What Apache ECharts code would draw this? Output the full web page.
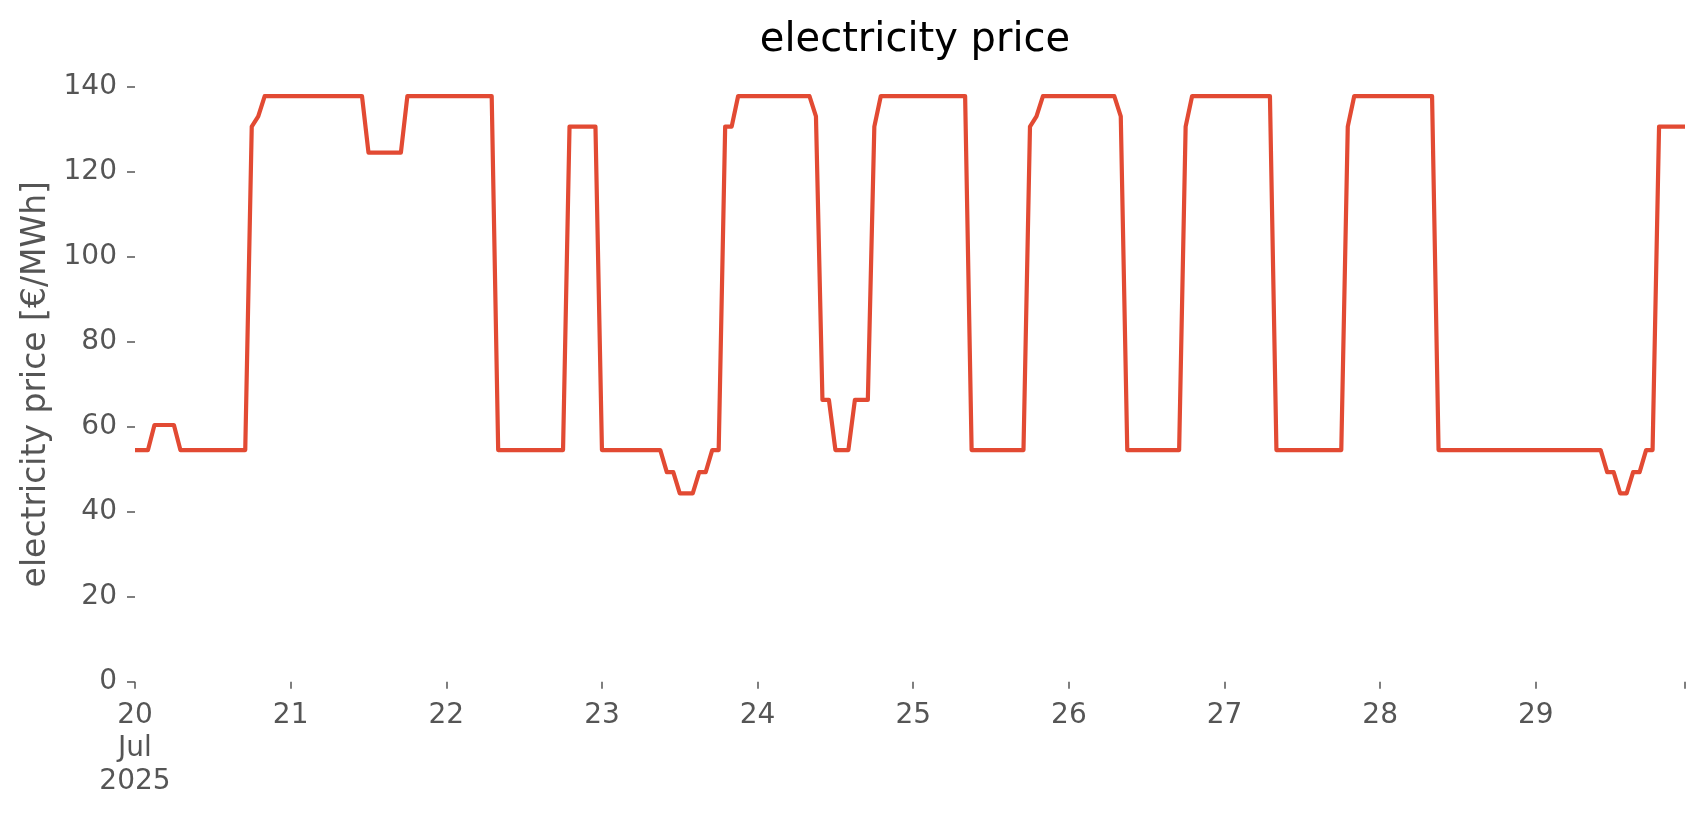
<!DOCTYPE html>
<html>
<head>
<meta charset="utf-8">
<script src="https://cdn.jsdelivr.net/npm/echarts@6/dist/echarts.min.js"></script>
<style>
html,body{margin:0;padding:0;background:#fff;}
#chart{width:1706px;height:815px;}
</style>
</head>
<body>
<div id="chart"></div>
<script>
// Hourly electricity price, 20 Jul 2025 00:00 .. 29 Jul 2025 23:00 (EUR/MWh)
const day20 = [54.5,54.5,54.5,60.4,60.4,60.4,60.4,54.5,54.5,54.5,54.5,54.5,54.5,54.5,54.5,54.5,54.5,54.5,130.6,133.0,137.8,137.8,137.8,137.8];
const day21 = [137.8,137.8,137.8,137.8,137.8,137.8,137.8,137.8,137.8,137.8,137.8,137.8,124.5,124.5,124.5,124.5,124.5,124.5,137.8,137.8,137.8,137.8,137.8,137.8];
const day22 = [137.8,137.8,137.8,137.8,137.8,137.8,137.8,137.8,54.5,54.5,54.5,54.5,54.5,54.5,54.5,54.5,54.5,54.5,54.5,130.6,130.6,130.6,130.6,130.6];
const day23 = [54.5,54.5,54.5,54.5,54.5,54.5,54.5,54.5,54.5,54.5,49.3,49.3,44.3,44.3,44.3,49.3,49.3,54.5,54.5,130.6,130.6,137.8,137.8,137.8];
const day24 = [137.8,137.8,137.8,137.8,137.8,137.8,137.8,137.8,137.8,133.0,66.3,66.3,54.5,54.5,54.5,66.3,66.3,66.3,130.6,137.8,137.8,137.8,137.8,137.8];
const day25 = [137.8,137.8,137.8,137.8,137.8,137.8,137.8,137.8,137.8,54.5,54.5,54.5,54.5,54.5,54.5,54.5,54.5,54.5,130.6,133.0,137.8,137.8,137.8,137.8];
const day26 = [137.8,137.8,137.8,137.8,137.8,137.8,137.8,137.8,133.0,54.5,54.5,54.5,54.5,54.5,54.5,54.5,54.5,54.5,130.6,137.8,137.8,137.8,137.8,137.8];
const day27 = [137.8,137.8,137.8,137.8,137.8,137.8,137.8,137.8,54.5,54.5,54.5,54.5,54.5,54.5,54.5,54.5,54.5,54.5,54.5,130.6,137.8,137.8,137.8,137.8];
const day28 = [137.8,137.8,137.8,137.8,137.8,137.8,137.8,137.8,137.8,54.5,54.5,54.5,54.5,54.5,54.5,54.5,54.5,54.5,54.5,54.5,54.5,54.5,54.5,54.5];
const day29 = [54.5,54.5,54.5,54.5,54.5,54.5,54.5,54.5,54.5,54.5,54.5,49.3,49.3,44.3,44.3,49.3,49.3,54.5,54.5,130.6,130.6,130.6,130.6,130.6];

const dayTickLabels = ['20\nJul\n2025','21','22','23','24','25','26','27','28','29'];
const yTicks = [0,20,40,60,80,100,120,140];

const prices = [].concat(day20,day21,day22,day23,day24,day25,day26,day27,day28,day29);
const seriesData = prices.map((v,i) => [i, v]);

const FONT = 'DejaVu Sans';
const GRID = {left: 135, right: 21, top: 86.7, bottom: 133.3};
const chart = echarts.init(document.getElementById('chart'), null, {renderer:'canvas'});
chart.setOption({
  animation: false,
  backgroundColor: '#ffffff',
  title: {
    text: 'electricity price',
    left: GRID.left + (1706 - GRID.left - GRID.right) / 2,
    textAlign: 'center',
    top: 16,
    textStyle: {fontFamily: FONT, fontSize: 40, fontWeight: 'normal', color: '#000000'}
  },
  grid: GRID,
  xAxis: {
    type: 'value',
    min: 0,
    max: prices.length - 1,
    interval: 24,
    axisLine: {show: false},
    axisTick: {show: true, length: 7, lineStyle: {color: '#555555', width: 1.5}},
    splitLine: {show: false},
    axisLabel: {
      margin: 18,
      fontFamily: FONT,
      fontSize: 28,
      lineHeight: 33,
      color: '#555555',
      verticalAlign: 'top',
      formatter: function (v) {
        if (v % 24 === 0) { return dayTickLabels[v / 24] || ''; }
        return '';
      }
    }
  },
  yAxis: {
    type: 'value',
    min: yTicks[0],
    max: yTicks[yTicks.length - 1],
    interval: 20,
    name: 'electricity price [€/MWh]',
    nameLocation: 'middle',
    nameGap: 80,
    nameTextStyle: {fontFamily: FONT, fontSize: 33, color: '#555555'},
    axisLine: {show: false},
    axisTick: {show: true, length: 8, lineStyle: {color: '#555555', width: 1.5}},
    splitLine: {show: false},
    axisLabel: {margin: 18, fontFamily: FONT, fontSize: 28, color: '#555555'}
  },
  series: [{
    type: 'line',
    data: seriesData,
    showSymbol: false,
    lineStyle: {color: '#E24A33', width: 4.2, join: 'round'},
    clip: false
  }]
});
</script>
</body>
</html>
